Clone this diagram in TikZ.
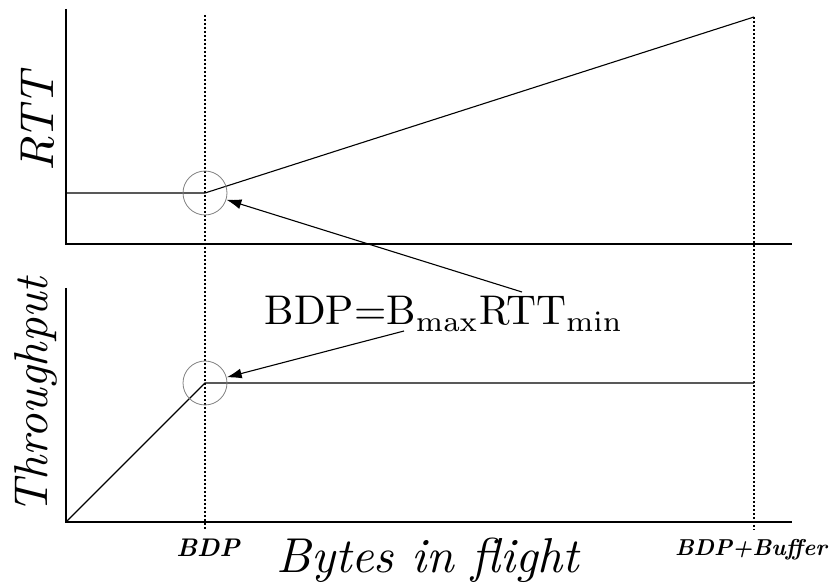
\documentclass[tikz,border=0pt]{standalone}
\usetikzlibrary{arrows.meta}
\begin{document}
\begin{tikzpicture}[x=1pt,y=-1pt,
  axis/.style={line width=1.1pt},
  curve/.style={line width=1.1pt},
  guide/.style={line width=1.1pt, dash pattern=on 1.6pt off 2.4pt},
  marker/.style={circle, draw=gray, line width=0.8pt, minimum size=44pt, inner sep=0pt},
  pointer/.style={line width=1.1pt, -{Latex[length=15pt,width=10pt]}},
  lab/.style={anchor=base, inner sep=0pt, font=\fontsize{10}{12}\selectfont},
  ylab/.style={lab, rotate=90}
]
\useasboundingbox (0,0) rectangle (831,588);

% key points of the two plots
\coordinate (rttTop)  at (66,9);
\coordinate (rttO)    at (66,244);
\coordinate (rttEnd)  at (792,244);
\coordinate (rttMin)  at (66,193);
\coordinate (rttKnee) at (205,193);
\coordinate (rttMax)  at (754,17);

\coordinate (thrTop)  at (66,288);
\coordinate (thrO)    at (66,522);
\coordinate (thrEnd)  at (792,522);
\coordinate (thrKnee) at (205,383);
\coordinate (thrFlat) at (754,383);

\coordinate (bdpTop) at (205,15);
\coordinate (bdpBot) at (205,530);
\coordinate (bufTop) at (754,17);
\coordinate (bufBot) at (754,530);

% vertical guides at BDP and BDP+Buffer
\draw[guide] (bdpTop) -- (bdpBot);
\draw[guide] (bufTop) -- (bufBot);

% axes
\draw[axis] (rttTop) -- (rttO) -- (rttEnd);
\draw[axis] (thrTop) -- (thrO) -- (thrEnd);

% RTT and throughput curves
\draw[curve] (rttMin) -- (rttKnee) -- (rttMax);
\draw[curve] (thrO) -- (thrKnee) -- (thrFlat);

% circles around the operating point
\node[marker] (ringRtt) at (rttKnee) {};
\node[marker] (ringThr) at (thrKnee) {};

% formula with its pointers
\node[lab] (bdpEq) at (444,325) {\scalebox{4.15}{BDP=B$_{\mathrm{max}}$RTT$_{\mathrm{min}}$}};
\coordinate (fromTop) at (522,292);
\coordinate (fromBot) at (404,331);
\draw[pointer] (fromTop) -- (ringRtt);
\draw[pointer] (fromBot) -- (ringThr);

% axis labels
\node[ylab] (rttLab) at (53,122) {\scalebox{4.75}{\itshape RTT}};
\node[ylab] (thrLab) at (47,396) {\scalebox{4.75}{\itshape Throughput}};
\node[lab] (xLab) at (428,572) {\scalebox{4.9}{\itshape Bytes in flight}};
\node[lab] (bdpLab) at (208,556) {\scalebox{2.55}{\bfseries\itshape BDP}};
\node[lab] (bufLab) at (751,555) {\scalebox{2.3}{\bfseries\itshape BDP+Buffer}};
\end{tikzpicture}
\end{document}
